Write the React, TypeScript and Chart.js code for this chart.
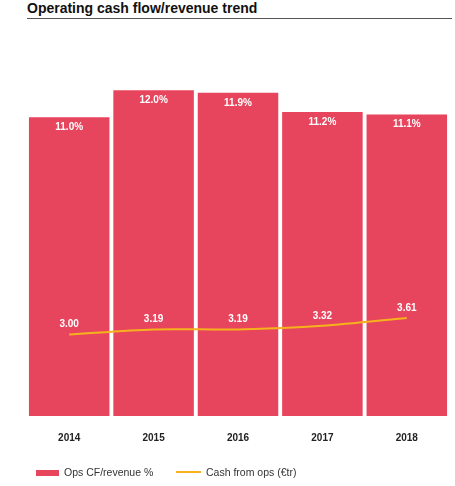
import React, { useEffect, useRef } from "react";
import { Chart, registerables } from "chart.js";

Chart.register(...registerables);

const years = ["2014", "2015", "2016", "2017", "2018"];
const opsCfRevenuePct = [11.0, 12.0, 11.9, 11.2, 11.1];
const cashFromOps = [3.0, 3.19, 3.19, 3.32, 3.61];
const barLabels = ["11.0%", "12.0%", "11.9%", "11.2%", "11.1%"];
const lineLabels = ["3.00", "3.19", "3.19", "3.32", "3.61"];

const RED = "#e7455d";
const YELLOW = "#f6b21c";
const FONT = "'Liberation Sans', Arial, Helvetica, sans-serif";

const valueLabelPlugin = {
  id: "valueLabels",
  afterDatasetsDraw(chart: any) {
    const ctx = chart.ctx;
    ctx.save();
    ctx.font = `bold 10px ${FONT}`;
    ctx.fillStyle = "#ffffff";
    ctx.textAlign = "center";
    ctx.textBaseline = "middle";
    const barMeta = chart.getDatasetMeta(0);
    barMeta.data.forEach((el: any, i: number) => {
      ctx.fillText(barLabels[i], el.x, el.y + 10);
    });
    const lineMeta = chart.getDatasetMeta(1);
    lineMeta.data.forEach((el: any, i: number) => {
      ctx.fillText(lineLabels[i], el.x, el.y - 10);
    });
    ctx.restore();
  },
};

export default function App() {
  const ref = useRef<HTMLCanvasElement | null>(null);
  useEffect(() => {
    if (!ref.current) return;
    const chart = new Chart(ref.current, {
      data: {
        labels: years,
        datasets: [
          {
            type: "bar",
            label: "Ops CF/revenue %",
            data: opsCfRevenuePct,
            backgroundColor: RED,
            barPercentage: 0.954,
            categoryPercentage: 1.0,
            order: 2,
          },
          {
            type: "line",
            label: "Cash from ops (€tr)",
            data: cashFromOps,
            borderColor: YELLOW,
            borderWidth: 2,
            pointRadius: 0,
            tension: 0.3,
            order: 1,
          },
        ],
      } as any,
      options: {
        animation: false,
        responsive: false,
        maintainAspectRatio: false,
        layout: { padding: { left: 27, right: 6, top: 63, bottom: 6 } },
        plugins: {
          legend: { display: false },
          tooltip: { enabled: false },
        },
        scales: {
          x: {
            grid: { display: false, drawTicks: false },
            border: { display: false },
            ticks: {
              padding: 16,
              color: "#222222",
              font: { family: FONT, size: 10, weight: "bold" },
            },
          },
          y: {
            display: false,
            min: 0,
            max: 13,
          },
        },
      } as any,
      plugins: [valueLabelPlugin],
    });
    return () => chart.destroy();
  }, []);

  return (
    <div style={{ position: "absolute", left: 0, top: 0, width: 455, height: 486, background: "#fff", fontFamily: FONT }}>
      <div
        style={{
          position: "absolute",
          left: 27,
          top: 0,
          width: 425,
          height: 18,
          borderBottom: "1.5px solid #555",
          fontSize: 14,
          fontWeight: "bold",
          color: "#111",
          lineHeight: "16px",
        }}
      >
        Operating cash flow/revenue trend
      </div>
      <canvas ref={ref} width={455} height={466} style={{ position: "absolute", left: 0, top: 0, width: 455, height: 466 }} />
      <div style={{ position: "absolute", left: 36, top: 470, width: 23, height: 6, background: RED }} />
      <div style={{ position: "absolute", left: 64, top: 465, fontSize: 10.5, color: "#333", lineHeight: "14px", whiteSpace: "nowrap" }}>
        Ops CF/revenue %
      </div>
      <div style={{ position: "absolute", left: 176, top: 471, width: 25, height: 2, background: YELLOW }} />
      <div style={{ position: "absolute", left: 206, top: 465, fontSize: 10.5, color: "#333", lineHeight: "14px", whiteSpace: "nowrap" }}>
        Cash from ops (€tr)
      </div>
    </div>
  );
}
